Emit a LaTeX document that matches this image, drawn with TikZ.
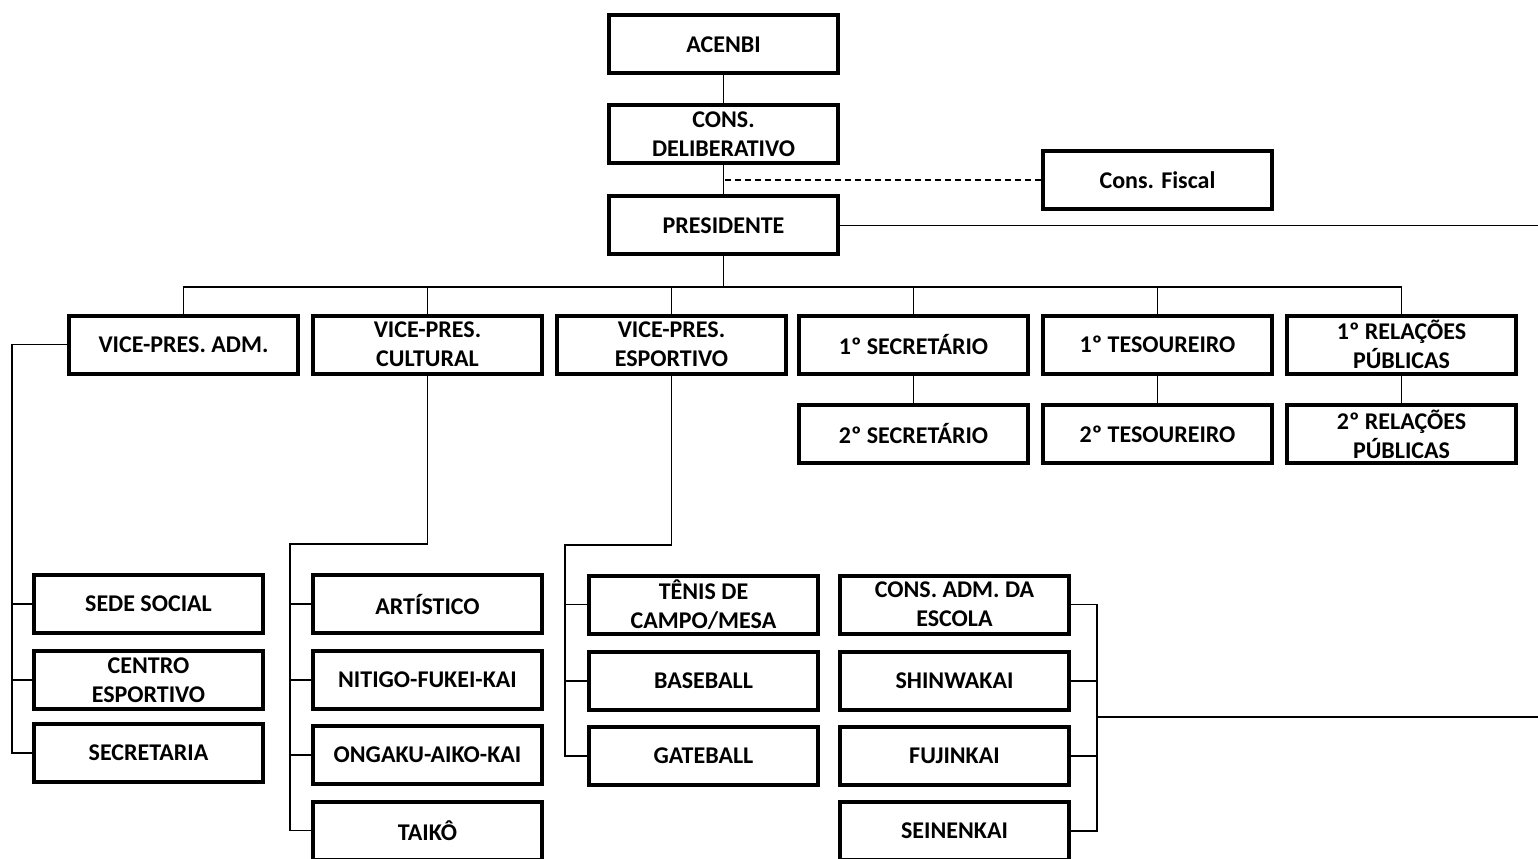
\documentclass[tikz,border=0pt]{standalone}
\usepackage{fontspec}
\setmainfont{Carlito}
\tikzset{every picture/.style={line width=1pt}}
\tikzset{orgbox/.style={draw, line width=3pt, minimum width=171.75pt, minimum height=43.5pt, inner sep=0.75pt, align=center, font=\fontsize{18}{21.5}\selectfont\bfseries}}

\begin{document}
\begin{tikzpicture}[x=0.75pt,y=0.75pt,yscale=-1,xscale=1]
\useasboundingbox (0,0) rectangle (1538,859);

%Shape: Rectangle [id:top]
\node (acenbi) at (723.5,44.5) [orgbox] {ACENBI};
\node (delib) at (723.5,134.5) [orgbox] {CONS.\\DELIBERATIVO};
\node (pres) at (723.5,225.5) [orgbox] {PRESIDENTE};
\node (fiscal) at (1157.5,180) [orgbox] {Cons. Fiscal};

%Shape: Rectangle [id:row2]
\node (vpadm) at (183.5,344.5) [orgbox] {VICE-PRES. ADM.};
\node (vpcult) at (427.5,344.5) [orgbox] {VICE-PRES.\\CULTURAL};
\node (vpesp) at (671.5,344.5) [orgbox] {VICE-PRES.\\ESPORTIVO};
\node (sec1) at (913.5,344.5) [orgbox] {1º SECRETÁRIO};
\node (tes1) at (1157.5,344.5) [orgbox] {1º TESOUREIRO};
\node (rp1) at (1401.5,344.5) [orgbox] {1º RELAÇÕES\\PÚBLICAS};

%Shape: Rectangle [id:row3]
\node (sec2) at (913.5,434) [orgbox] {2º SECRETÁRIO};
\node (tes2) at (1157.5,434) [orgbox] {2º TESOUREIRO};
\node (rp2) at (1401.5,434) [orgbox] {2º RELAÇÕES\\PÚBLICAS};

%Shape: Rectangle [id:adm]
\node (sede) at (148.5,604) [orgbox] {SEDE SOCIAL};
\node (centro) at (148.5,680) [orgbox] {CENTRO\\ESPORTIVO};
\node (secretaria) at (148.5,753) [orgbox] {SECRETARIA};

%Shape: Rectangle [id:cult]
\node (artistico) at (427.5,604) [orgbox] {ARTÍSTICO};
\node (nitigo) at (427.5,680) [orgbox] {NITIGO-FUKEI-KAI};
\node (ongaku) at (427.5,755) [orgbox] {ONGAKU-AIKO-KAI};
\node (taiko) at (427.5,830.5) [orgbox] {TAIKÔ};

%Shape: Rectangle [id:esp]
\node (tenis) at (703.5,604.5) [orgbox] {TÊNIS DE\\CAMPO/MESA};
\node (baseball) at (703.5,681) [orgbox] {BASEBALL};
\node (gateball) at (703.5,756) [orgbox] {GATEBALL};

%Shape: Rectangle [id:escola]
\node (consadm) at (954.5,604.5) [orgbox] {CONS. ADM. DA\\ESCOLA};
\node (shinwakai) at (954.5,681) [orgbox] {SHINWAKAI};
\node (fujinkai) at (954.5,756) [orgbox] {FUJINKAI};
\node (seinenkai) at (954.5,831) [orgbox] {SEINENKAI};

%Straight Lines [id:spine]
\coordinate (bus) at (723.5,287);
\draw (acenbi) -- (delib);
\draw (delib) -- (pres);
\draw (pres.south) -- (bus);
\draw [dash pattern={on 4.5pt off 3pt}] (fiscal.west) -- (fiscal.west -| delib.south);
\coordinate (presout) at (1538,225.5);
\draw (pres.east) -- (presout);

%Straight Lines [id:bus]
\draw (vpadm.north) |- (bus) -| (rp1.north);
\foreach \n in {vpcult,vpesp,sec1,tes1}
  \draw (\n.north) -- (\n.north |- bus);
\draw (sec1) -- (sec2);
\draw (tes1) -- (tes2);
\draw (rp1) -- (rp2);

%Straight Lines [id:adm]
\coordinate (admx) at (12,0);
\draw (vpadm.west) -| (secretaria.west -| admx) -- (secretaria.west);
\foreach \n in {sede,centro}
  \draw (\n.west) -- (\n.west -| admx);

%Straight Lines [id:cult]
\coordinate (cultbend) at (290,544);
\draw (vpcult.south) |- (cultbend) |- (taiko.west);
\foreach \n in {artistico,nitigo,ongaku}
  \draw (\n.west) -- (\n.west -| cultbend);

%Straight Lines [id:esp]
\coordinate (espbend) at (565,545);
\draw (vpesp.south) |- (espbend) |- (gateball.west);
\foreach \n in {tenis,baseball}
  \draw (\n.west) -- (\n.west -| espbend);

%Straight Lines [id:escola]
\coordinate (escx) at (1097,0);
\coordinate (escout) at (1538,717);
\draw (consadm.east) -| (seinenkai.east -| escx) -- (seinenkai.east);
\foreach \n in {shinwakai,fujinkai}
  \draw (\n.east) -- (\n.east -| escx);
\draw (escout -| escx) -- (escout);
\end{tikzpicture}
\end{document}
